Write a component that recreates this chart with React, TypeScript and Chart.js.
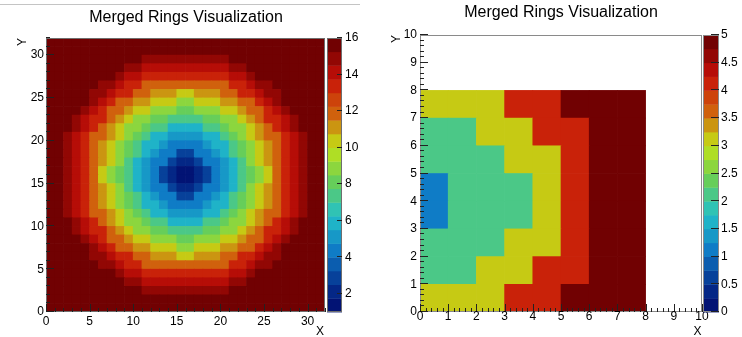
import React, { useEffect, useRef } from 'react';
import { Chart, registerables } from 'chart.js';

Chart.register(...registerables);

const FONT = '"Liberation Sans", Arial, Helvetica, sans-serif';
const TITLE = 'Merged Rings Visualization';

// ---------- left panel: 32 x 32 ring histogram ----------
const ringBinsX = [0,1,2,3,4,5,6,7,8,9,10,11,12,13,14,15,16,17,18,19,20,21,22,23,24,25,26,27,28,29,30,31];
const ringBinsY = [0,1,2,3,4,5,6,7,8,9,10,11,12,13,14,15,16,17,18,19,20,21,22,23,24,25,26,27,28,29,30,31];
// row patterns, named by distance (in bins) of the row from the centre line
const ringR0 = [16,16,15,14,13,12,10,9,8,7,6,5,4,3,2,1,1,2,3,4,5,6,7,8,9,10,12,13,14,15,16,16];
const ringR1 = [16,16,15,14,13,12,11,10,9,7,6,5,4,4,3,2,2,3,4,4,5,6,7,9,10,11,12,13,14,15,16,16];
const ringR2 = [16,16,15,14,13,12,11,10,9,8,7,6,5,4,4,3,3,4,4,5,6,7,8,9,10,11,12,13,14,15,16,16];
const ringR3 = [16,16,15,14,13,12,11,10,9,8,7,6,6,5,4,4,4,4,5,6,6,7,8,9,10,11,12,13,14,15,16,16];
const ringR4 = [16,16,15,14,13,12,12,11,10,9,8,7,6,6,5,5,5,5,6,6,7,8,9,10,11,12,12,13,14,15,16,16];
const ringR5 = [16,16,16,15,14,13,12,11,10,9,9,8,7,7,6,6,6,6,7,7,8,9,9,10,11,12,13,14,15,16,16,16];
const ringR6 = [16,16,16,15,14,13,13,12,11,10,9,9,8,8,7,7,7,7,8,8,9,9,10,11,12,13,13,14,15,16,16,16];
const ringR7 = [16,16,16,16,15,14,13,12,12,11,10,10,9,9,9,8,8,9,9,9,10,10,11,12,12,13,14,15,16,16,16,16];
const ringR8 = [16,16,16,16,16,15,14,13,12,12,11,11,10,10,10,9,9,10,10,10,11,11,12,12,13,14,15,16,16,16,16,16];
const ringR9 = [16,16,16,16,16,15,15,14,13,13,12,12,11,11,11,10,10,11,11,11,12,12,13,13,14,15,15,16,16,16,16,16];
const ringR10 = [16,16,16,16,16,16,15,15,14,13,13,12,12,12,12,12,12,12,12,12,12,13,13,14,15,15,16,16,16,16,16,16];
const ringR11 = [16,16,16,16,16,16,16,16,15,14,14,13,13,13,13,13,13,13,13,13,13,14,14,15,16,16,16,16,16,16,16,16];
const ringR12 = [16,16,16,16,16,16,16,16,16,15,15,14,14,14,14,14,14,14,14,14,14,15,15,16,16,16,16,16,16,16,16,16];
const ringR13 = [16,16,16,16,16,16,16,16,16,16,16,15,15,15,15,15,15,15,15,15,15,16,16,16,16,16,16,16,16,16,16,16];
const ringR14 = [16,16,16,16,16,16,16,16,16,16,16,16,16,16,16,16,16,16,16,16,16,16,16,16,16,16,16,16,16,16,16,16];
const ringR15 = [16,16,16,16,16,16,16,16,16,16,16,16,16,16,16,16,16,16,16,16,16,16,16,16,16,16,16,16,16,16,16,16];
// rows from y = 0 (bottom) to y = 31 (top)
const ringRows = [
  ringR15, ringR14, ringR13, ringR12, ringR11, ringR10, ringR9, ringR8,
  ringR7, ringR6, ringR5, ringR4, ringR3, ringR2, ringR1, ringR0,
  ringR0, ringR1, ringR2, ringR3, ringR4, ringR5, ringR6, ringR7,
  ringR8, ringR9, ringR10, ringR11, ringR12, ringR13, ringR14, ringR15,
];
const ringXTicks = [0, 5, 10, 15, 20, 25, 30];
const ringYTicks = [0, 5, 10, 15, 20, 25, 30];
const ringZTicks = [2, 4, 6, 8, 10, 12, 14, 16];

// ---------- right panel: merged 10 x 10 histogram ----------
const mergedBinsX = [0, 1, 2, 3, 4, 5, 6, 7];
const mergedBinsY = [0, 1, 2, 3, 4, 5, 6, 7];
const mergedY0 = [3, 3, 3, 4, 4, 5, 5, 5];
const mergedY1 = [2, 2, 3, 3, 4, 4, 5, 5];
const mergedY2 = [2, 2, 2, 3, 3, 4, 5, 5];
const mergedY3 = [1, 2, 2, 2, 3, 4, 5, 5];
const mergedY4 = [1, 2, 2, 2, 3, 4, 5, 5];
const mergedY5 = [2, 2, 2, 3, 3, 4, 5, 5];
const mergedY6 = [2, 2, 3, 3, 4, 4, 5, 5];
const mergedY7 = [3, 3, 3, 4, 4, 5, 5, 5];
const mergedRows = [mergedY0, mergedY1, mergedY2, mergedY3, mergedY4, mergedY5, mergedY6, mergedY7];
const mergedXTicks = [0, 1, 2, 3, 4, 5, 6, 7, 8, 9, 10];
const mergedYTicks = [0, 1, 2, 3, 4, 5, 6, 7, 8, 9, 10];
const mergedZTicks = [0, 0.5, 1, 1.5, 2, 2.5, 3, 3.5, 4, 4.5, 5];

// ---------- ROOT "rainbow" palette ----------
const STOPS = [0, 0.125, 0.25, 0.375, 0.5, 0.625, 0.75, 0.875, 1];
const PR = [0, 5, 15, 35, 102, 196, 208, 199, 110];
const PG = [0, 48, 124, 192, 206, 226, 97, 16, 0];
const PB = [99, 142, 198, 201, 90, 22, 13, 8, 2];
const NCOL = 255;
const NCONT = 20;

function paletteColor(k: number): string {
  for (let g = 1; g < STOPS.length; g++) {
    const a = Math.floor(NCOL * STOPS[g - 1]);
    const b = Math.floor(NCOL * STOPS[g]);
    if (k < b || g === STOPS.length - 1) {
      const f = (k - a) / (b - a);
      const r = Math.round(PR[g - 1] + f * (PR[g] - PR[g - 1]));
      const gg = Math.round(PG[g - 1] + f * (PG[g] - PG[g - 1]));
      const bb = Math.round(PB[g - 1] + f * (PB[g] - PB[g - 1]));
      return `rgb(${r},${gg},${bb})`;
    }
  }
  return 'rgb(0,0,0)';
}
function bandColor(band: number): string {
  const k = Math.floor((band + 0.99) * NCOL / NCONT);
  return paletteColor(Math.min(NCOL - 1, k));
}
function valueColor(v: number, zmin: number, zmax: number): string {
  let band = Math.floor(0.01 + (v - zmin) * NCONT / (zmax - zmin));
  if (band > NCONT - 1) band = NCONT - 1;
  if (band < 0) band = 0;
  return bandColor(band);
}

type PanelCfg = {
  left: number;
  binsX: number[];
  binsY: number[];
  rows: number[][];
  xMax: number; yMax: number;
  zmin: number; zmax: number;
  xTicks: number[]; yTicks: number[]; zTicks: number[];
  xMinorStep: number; yMinorStep: number;
  padding: { left: number; right: number; top: number; bottom: number };
  majorLen: number; minorLen: number;
  xLabelBase: number; yLabelRight: number;
  barGap: number; barWidth: number; zTickLen: number; zLabelGap: number;
  titleX: number; titleY: number;
  xTitleRight: number; xTitleBase: number;
  yTitleBase: number; yTitleTop: number;
  topLine: boolean;
  frameColor: string;
};

const leftCfg: PanelCfg = {
  left: 0,
  binsX: ringBinsX, binsY: ringBinsY, rows: ringRows,
  xMax: 32, yMax: 32, zmin: 1, zmax: 16,
  xTicks: ringXTicks, yTicks: ringYTicks, zTicks: ringZTicks,
  xMinorStep: 1, yMinorStep: 1,
  padding: { left: 46, right: 46, top: 38, bottom: 25 },
  majorLen: 8, minorLen: 4,
  xLabelBase: 325, yLabelRight: 44,
  barGap: 2, barWidth: 15, zTickLen: 5, zLabelGap: 3,
  titleX: 186, titleY: 21.5,
  xTitleRight: 324, xTitleBase: 335,
  yTitleBase: 26, yTitleTop: 38,
  topLine: true,
  frameColor: '#6e6e6e',
};

const rightCfg: PanelCfg = {
  left: 371,
  binsX: mergedBinsX, binsY: mergedBinsY, rows: mergedRows,
  xMax: 10, yMax: 10, zmin: 0, zmax: 5,
  xTicks: mergedXTicks, yTicks: mergedYTicks, zTicks: mergedZTicks,
  xMinorStep: 0.2, yMinorStep: 0.2,
  padding: { left: 49, right: 40, top: 35, bottom: 25 },
  majorLen: 8, minorLen: 4,
  xLabelBase: 320, yLabelRight: 46,
  barGap: 1, barWidth: 16, zTickLen: 8, zLabelGap: 2,
  titleX: 190, titleY: 17,
  xTitleRight: 330.5, xTitleBase: 335,
  yTitleBase: 28.5, yTitleTop: 35,
  topLine: false,
  frameColor: '#8a8a8a',
};

function fmt(v: number): string {
  return String(Math.round(v * 100) / 100);
}

function makeDeco(cfg: PanelCfg) {
  return {
    id: 'rootDeco',
    afterDatasetsDraw(chart: any) {
      const ctx: CanvasRenderingContext2D = chart.ctx;
      const { left, right, top, bottom } = chart.chartArea;
      const xs = chart.scales.x;
      const ys = chart.scales.y;
      const zs = chart.scales.z;
      ctx.save();

      if (cfg.topLine) {
        ctx.strokeStyle = '#c4c4c4';
        ctx.lineWidth = 1;
        ctx.beginPath();
        ctx.moveTo(0, 4.5);
        ctx.lineTo(360, 4.5);
        ctx.stroke();
      }

      // frame
      ctx.strokeStyle = cfg.frameColor;
      ctx.lineWidth = 1;
      ctx.strokeRect(left + 0.5, top + 0.5, right - left - 1, bottom - top - 1);

      // ticks (inside the frame, bottom and left)
      ctx.strokeStyle = '#222';
      ctx.lineWidth = 1;
      ctx.beginPath();
      const nxMinor = Math.round(cfg.xMax / cfg.xMinorStep);
      for (let i = 0; i <= nxMinor; i++) {
        const v = i * cfg.xMinorStep;
        const isMajor = cfg.xTicks.some((t) => Math.abs(t - v) < 1e-6);
        const px = Math.round(xs.getPixelForValue(v)) + 0.5;
        ctx.moveTo(px, bottom);
        ctx.lineTo(px, bottom - (isMajor ? cfg.majorLen : cfg.minorLen));
      }
      const nyMinor = Math.round(cfg.yMax / cfg.yMinorStep);
      for (let i = 0; i <= nyMinor; i++) {
        const v = i * cfg.yMinorStep;
        const isMajor = cfg.yTicks.some((t) => Math.abs(t - v) < 1e-6);
        const py = Math.round(ys.getPixelForValue(v)) - 0.5;
        ctx.moveTo(left, py);
        ctx.lineTo(left + (isMajor ? cfg.majorLen : cfg.minorLen), py);
      }
      ctx.stroke();

      // tick labels
      ctx.fillStyle = '#000';
      ctx.font = `12px ${FONT}`;
      ctx.textAlign = 'center';
      ctx.textBaseline = 'alphabetic';
      cfg.xTicks.forEach((t) => {
        ctx.fillText(fmt(t), xs.getPixelForValue(t), cfg.xLabelBase);
      });
      ctx.textAlign = 'right';
      ctx.textBaseline = 'middle';
      cfg.yTicks.forEach((t) => {
        ctx.fillText(fmt(t), cfg.yLabelRight, ys.getPixelForValue(t));
      });

      // axis titles
      ctx.textBaseline = 'alphabetic';
      ctx.textAlign = 'right';
      ctx.fillText('X', cfg.xTitleRight, cfg.xTitleBase);
      ctx.save();
      ctx.translate(cfg.yTitleBase, cfg.yTitleTop);
      ctx.rotate(-Math.PI / 2);
      ctx.textAlign = 'right';
      ctx.fillText('Y', 0, 0);
      ctx.restore();

      // colour bar
      const bx0 = right + cfg.barGap;
      const bx1 = bx0 + cfg.barWidth;
      const dz = (cfg.zmax - cfg.zmin) / NCONT;
      for (let b = 0; b < NCONT; b++) {
        const yA = zs.getPixelForValue(cfg.zmin + b * dz);
        const yB = zs.getPixelForValue(cfg.zmin + (b + 1) * dz);
        ctx.fillStyle = bandColor(b);
        ctx.fillRect(bx0, yB, bx1 - bx0, yA - yB + 0.4);
      }
      ctx.strokeStyle = cfg.frameColor;
      ctx.strokeRect(bx0 + 0.5, top + 0.5, bx1 - bx0 - 1, bottom - top - 1);
      ctx.strokeStyle = '#222';
      ctx.beginPath();
      cfg.zTicks.forEach((t) => {
        const py = Math.round(zs.getPixelForValue(t)) - 0.5;
        ctx.moveTo(bx1, py);
        ctx.lineTo(bx1 - cfg.zTickLen, py);
      });
      ctx.stroke();
      ctx.fillStyle = '#000';
      ctx.textAlign = 'left';
      ctx.textBaseline = 'middle';
      cfg.zTicks.forEach((t) => {
        ctx.fillText(fmt(t), bx1 + cfg.zLabelGap, zs.getPixelForValue(t));
      });

      // title
      ctx.font = `16px ${FONT}`;
      ctx.textAlign = 'center';
      ctx.textBaseline = 'alphabetic';
      ctx.fillText(TITLE, cfg.titleX, cfg.titleY);

      ctx.restore();
    },
  };
}

function HeatPanel({ cfg }: { cfg: PanelCfg }) {
  const ref = useRef<HTMLCanvasElement>(null);
  useEffect(() => {
    if (!ref.current) return;
    const datasets = cfg.rows.map((row, j) => ({
      data: row.map((_v, i) => ({ x: cfg.binsX[i] + 0.5, y: [cfg.binsY[j], cfg.binsY[j] + 1] })),
      backgroundColor: row.map((v) => valueColor(v, cfg.zmin, cfg.zmax)),
      borderWidth: 0,
      grouped: false,
      barPercentage: 1,
      categoryPercentage: 1,
    }));
    const chart = new Chart(ref.current, {
      type: 'bar',
      data: { datasets } as any,
      options: {
        responsive: false,
        animation: false,
        events: [],
        layout: { padding: cfg.padding },
        plugins: {
          legend: { display: false },
          tooltip: { enabled: false },
          title: { display: false },
        },
        scales: {
          x: {
            type: 'linear', min: 0, max: cfg.xMax, offset: false, display: false,
            ticks: { stepSize: cfg.xTicks[1] - cfg.xTicks[0] }, grid: { offset: false },
          },
          y: {
            type: 'linear', min: 0, max: cfg.yMax, display: false,
            ticks: { stepSize: cfg.yTicks[1] - cfg.yTicks[0] },
          },
          z: {
            type: 'linear', axis: 'y', position: 'right', min: cfg.zmin, max: cfg.zmax, display: false,
          },
        },
      } as any,
      plugins: [makeDeco(cfg)],
    });
    return () => chart.destroy();
  }, [cfg]);
  return (
    <canvas
      ref={ref}
      width={371}
      height={337}
      style={{ position: 'absolute', left: cfg.left, top: 0, width: 371, height: 337, display: 'block' }}
    />
  );
}

export default function App() {
  return (
    <div style={{ position: 'fixed', left: 0, top: 0, width: 742, height: 337, background: '#fff', overflow: 'hidden' }}>
      <HeatPanel cfg={leftCfg} />
      <HeatPanel cfg={rightCfg} />
    </div>
  );
}
